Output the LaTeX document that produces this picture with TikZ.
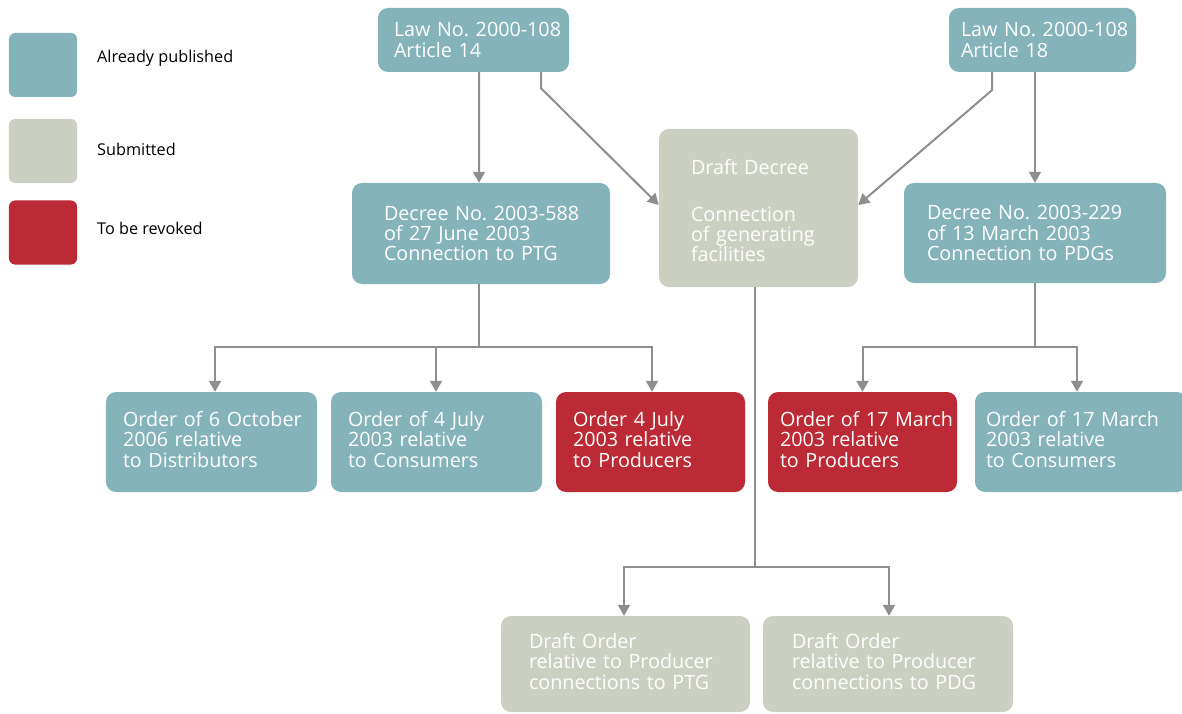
\documentclass[tikz,border=0pt]{standalone}
\usepackage{fontspec}
\setmainfont{Open Sans}
\usetikzlibrary{arrows.meta,calc}
\definecolor{pubc}{HTML}{84B3BA}
\definecolor{subc}{HTML}{CBD0C3}
\definecolor{revc}{HTML}{BC2A35}
\definecolor{linec}{HTML}{8E8E8E}
\tikzset{
  box/.style n args={3}{draw=none, fill=#1, rounded corners=10bp, inner sep=0pt,
    minimum width=#2, minimum height=#3, text width=#2, align=left, text=white,
    font=\fontsize{19.8}{20.3}\selectfont},
  legbox/.style={fill=#1, rounded corners=6bp, minimum width=68bp, minimum height=64bp, inner sep=0pt},
  legtext/.style={anchor=west, inner sep=0pt, font=\fontsize{16.3}{18}\selectfont, text=black},
  conn/.style={draw=linec, line width=2bp},
  arr/.style={conn, -{Triangle[width=12bp,length=11bp]}},
}
\frenchspacing
\newcommand{\upby}{\par\vspace*{5bp}}
\begin{document}
\begin{tikzpicture}[x=1bp,y=-1bp]
\useasboundingbox (0,0) rectangle (1182,714);
% legend
\node[legbox=pubc] (lg1) at (43,65) {};
\node[legbox=subc] (lg2) at (43,151) {};
\node[legbox=revc] (lg3) at (43,232.5) {};
\node[legtext] (lt1) at (97,58) {Already published};
\node[legtext] (lt2) at (97,149) {Submitted};
\node[legtext] (lt3) at (97,228) {To be revoked};
% boxes
\node[box={pubc}{191bp}{64bp}] (law14) at (473.5,40) {\hspace*{16bp}\parbox[c]{170bp}{Law No. 2000-108\\Article 14}};
\node[box={pubc}{187bp}{64bp}] (law18) at (1042.5,40) {\hspace*{12bp}\parbox[c]{170bp}{Law No. 2000-108\\Article 18}};
\node[box={pubc}{258bp}{101bp}] (dec588) at (481,233.5) {\hspace*{32bp}\parbox[c]{220bp}{Decree No. 2003-588\\of 27 June 2003\\Connection to PTG}};
\node[box={subc}{199bp}{158bp}] (draft) at (758.5,208) {\hspace*{32bp}\parbox[c]{160bp}{\vspace*{5bp}Draft Decree\\[27bp]Connection\\of generating\\facilities}};
\node[box={pubc}{262bp}{100bp}] (dec229) at (1035,233) {\hspace*{23bp}\parbox[c]{230bp}{Decree No. 2003-229\\of 13 March 2003\\Connection to PDGs}};
\node[box={pubc}{211bp}{100bp}] (o1) at (211.5,442) {\hspace*{17bp}\parbox[c]{190bp}{Order of 6 October\\2006 relative\\to Distributors\upby}};
\node[box={pubc}{211bp}{100bp}] (o2) at (436.5,442) {\hspace*{17bp}\parbox[c]{190bp}{Order of 4 July\\2003 relative\\to Consumers\upby}};
\node[box={revc}{189bp}{100bp}] (o3) at (650.5,442) {\hspace*{17bp}\parbox[c]{170bp}{Order 4 July\\2003 relative\\to Producers\upby}};
\node[box={revc}{189bp}{100bp}] (o4) at (862.5,442) {\hspace*{12bp}\parbox[c]{175bp}{Order of 17 March\\2003 relative\\to Producers\upby}};
\node[box={pubc}{212bp}{100bp}] (o5) at (1081,442) {\hspace*{11bp}\parbox[c]{195bp}{Order of 17 March\\2003 relative\\to Consumers\upby}};
\node[box={subc}{249bp}{96bp}] (b1) at (625.5,664) {\hspace*{28bp}\parbox[c]{215bp}{Draft Order\\relative to Producer\\connections to PTG\upby}};
\node[box={subc}{250bp}{96bp}] (b2) at (888,664) {\hspace*{29bp}\parbox[c]{215bp}{Draft Order\\relative to Producer\\connections to PDG\upby}};
% connectors
\draw[arr] ($(law14.south)+(5.5,0)$) -- ($(dec588.north)+(-2,0)$);
\draw[arr] ($(law14.south)+(67.5,0)$) -- ++(0,16) -- ($(draft.west)+(0,-3)$);
\draw[arr] ($(law18.south)+(-50.5,0)$) -- ++(0,18) -- ($(draft.east)+(0,-3)$);
\draw[arr] ($(law18.south)+(-7.5,0)$) -- (dec229.north);
% decree 588 bus
\coordinate (bus1) at ($(dec588.south)+(-2,63)$);
\draw[conn] ($(dec588.south)+(-2,0)$) -- (bus1);
\draw[arr] (bus1) -| ($(o1.north)+(3.5,0)$);
\draw[arr] (bus1) -| ($(o2.north)+(-0.5,0)$);
\draw[arr] (bus1) -| ($(o3.north)+(1.5,0)$);
% decree 229 bus
\coordinate (bus2) at ($(dec229.south)+(0,64)$);
\draw[conn] (dec229.south) -- (bus2);
\draw[arr] (bus2) -| (o4.north);
\draw[arr] (bus2) -| ($(o5.north)+(-4,0)$);
% draft decree bus
\coordinate (bus3) at ($(draft.south)+(-3.5,280)$);
\draw[conn] ($(draft.south)+(-3.5,0)$) -- (bus3);
\draw[arr] (bus3) -| ($(b1.north)+(-1.5,0)$);
\draw[arr] (bus3) -| ($(b2.north)+(1,0)$);
\end{tikzpicture}
\end{document}
